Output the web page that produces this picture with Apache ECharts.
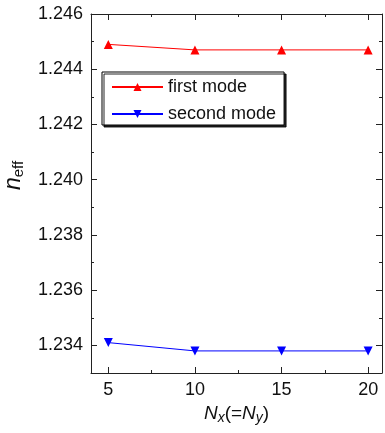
<!DOCTYPE html>
<html>
<head>
<meta charset="utf-8">
<script src="https://cdn.jsdelivr.net/npm/echarts@6/dist/echarts.min.js"></script>
<style>
html,body{margin:0;padding:0;background:#fff;}
#chart{width:385px;height:433px;}
</style>
</head>
<body>
<div id="chart"></div>
<script>
var nx = [5, 10, 15, 20];
var firstMode = [1.2449, 1.2447, 1.2447, 1.2447];
var secondMode = [1.2341, 1.2338, 1.2338, 1.2338];
var xMajorTicks = [5, 10, 15, 20];
var xMinorTicks = [7.5, 12.5, 17.5];
var yMajorTicks = [1.234, 1.236, 1.238, 1.240, 1.242, 1.244, 1.246];
var yMinorTicks = [1.235, 1.237, 1.239, 1.241, 1.243, 1.245];
var seriesNames = ['first mode', 'second mode'];

var FONT = 'Liberation Sans, Arial, sans-serif';
var AX = '#222';
var X_MIN = 4, X_MAX = 20.8, Y_MIN = 1.233, Y_MAX = 1.246;

function xAx(pos, ticks, len, showLine, showLabel, extra) {
  var a = {
    type: 'value', position: pos, min: X_MIN, max: X_MAX,
    axisLine: {show: showLine, lineStyle: {color: AX, width: 1}},
    axisTick: {show: true, inside: true, length: len, customValues: ticks, lineStyle: {color: AX, width: 1}},
    axisLabel: {show: showLabel, customValues: ticks, color: '#111', fontSize: 18, fontFamily: FONT, margin: 8},
    splitLine: {show: false}
  };
  return Object.assign(a, extra || {});
}
function yAx(pos, ticks, len, showLine, showLabel, extra) {
  var a = {
    type: 'value', position: pos, min: Y_MIN, max: Y_MAX,
    axisLine: {show: showLine, lineStyle: {color: AX, width: 1}},
    axisTick: {show: true, inside: true, length: len, customValues: ticks, lineStyle: {color: AX, width: 1}},
    axisLabel: {show: showLabel, customValues: ticks, color: '#111', fontSize: 18, fontFamily: FONT, margin: 8,
      formatter: function (v) { return v.toFixed(3); }},
    splitLine: {show: false}
  };
  return Object.assign(a, extra || {});
}

var chart = echarts.init(document.getElementById('chart'), null, {renderer: 'canvas'});
chart.setOption({
  animation: false,
  backgroundColor: '#fff',
  grid: {left: 91, top: 14, right: 3, bottom: 60, containLabel: false, outerBoundsMode: 'none'},
  legend: {
    left: 102, top: 72, orient: 'vertical',
    data: seriesNames,
    itemWidth: 51, itemHeight: 10, itemGap: 9,
    padding: [6, 8, 2, 9],
    borderColor: '#000', borderWidth: 1, backgroundColor: '#fff',
    shadowColor: 'rgba(0,0,0,0.85)', shadowBlur: 0, shadowOffsetX: 2, shadowOffsetY: 2,
    textStyle: {fontSize: 18, fontFamily: FONT, color: '#111'}
  },
  xAxis: [
    xAx('bottom', xMajorTicks, 6, true, true, {
      name: '{i|N}{si|x}{n|(=}{i|N}{si|y}{n|)}', nameLocation: 'middle', nameGap: 27,
      nameTextStyle: {rich: {
        i: {fontSize: 19, fontStyle: 'italic', fontFamily: FONT, color: '#111'},
        si: {fontSize: 14, fontStyle: 'italic', fontFamily: FONT, color: '#111', verticalAlign: 'bottom', padding: [9, 0, 0, 0]},
        n: {fontSize: 19, fontFamily: FONT, color: '#111'}
      }}
    }),
    xAx('top', xMajorTicks, 6, true, false),
    xAx('bottom', xMinorTicks, 3, false, false),
    xAx('top', xMinorTicks, 3, false, false)
  ],
  yAxis: [
    yAx('left', yMajorTicks, 6, true, true, {
      name: '{i|n}{s|eff}', nameLocation: 'middle', nameGap: 65, nameRotate: 90,
      nameTextStyle: {padding: [0, 0, 0, 36], rich: {
        i: {fontSize: 23, fontStyle: 'italic', fontFamily: FONT, color: '#111'},
        s: {fontSize: 15, fontFamily: FONT, color: '#111', padding: [9, 0, 0, 0]}
      }}
    }),
    yAx('right', yMajorTicks, 6, true, false),
    yAx('left', yMinorTicks, 3, false, false),
    yAx('right', yMinorTicks, 3, false, false)
  ],
  series: [
    {
      name: seriesNames[0], type: 'line', xAxisIndex: 0, yAxisIndex: 0,
      data: nx.map(function (x, i) { return [x, firstMode[i]]; }),
      symbol: 'triangle', symbolSize: 9,
      lineStyle: {color: '#ff0000', width: 1},
      itemStyle: {color: '#ff0000'}
    },
    {
      name: seriesNames[1], type: 'line', xAxisIndex: 0, yAxisIndex: 0,
      data: nx.map(function (x, i) { return [x, secondMode[i]]; }),
      symbol: 'triangle', symbolRotate: 180, symbolSize: 9,
      lineStyle: {color: '#0000ff', width: 1},
      itemStyle: {color: '#0000ff'}
    }
  ]
});
</script>
</body>
</html>
